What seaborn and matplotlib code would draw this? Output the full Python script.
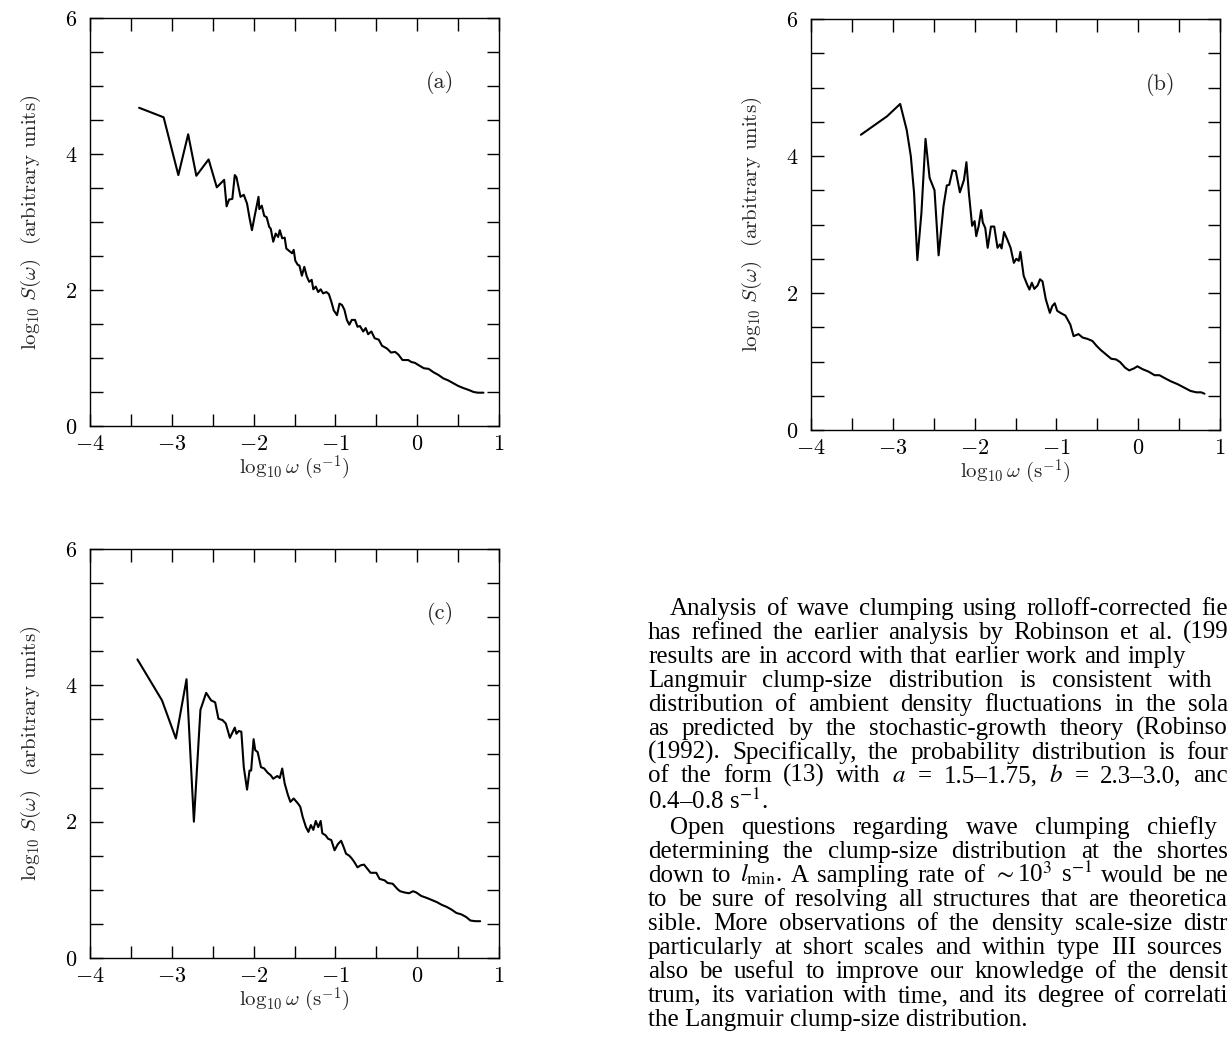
import numpy as np
import pandas as pd
import matplotlib
matplotlib.use("Agg")
import matplotlib.pyplot as plt
import seaborn as sns

# ---------------- data ----------------
a_x = [-3.40, -3.10, -2.92, -2.80, -2.70, -2.55, -2.45, -2.36, -2.33, -2.30, -2.26, -2.23, -2.21, -2.16,
       -2.12, -2.08, -2.05, -2.02, -1.99, -1.97, -1.94, -1.93, -1.90, -1.87, -1.84, -1.81, -1.79, -1.76,
       -1.73, -1.70, -1.68, -1.65, -1.62, -1.60, -1.56, -1.53, -1.51, -1.49, -1.46, -1.44, -1.41, -1.38,
       -1.35, -1.32, -1.29, -1.27, -1.24, -1.21, -1.18, -1.15, -1.11, -1.08, -1.05, -1.02, -0.98, -0.95,
       -0.92, -0.89, -0.86, -0.83, -0.80, -0.76, -0.73, -0.70, -0.66, -0.63, -0.60, -0.56, -0.52, -0.47,
       -0.43, -0.37, -0.32, -0.27, -0.23, -0.18, -0.11, -0.07, -0.03, 0.01, 0.08, 0.14, 0.20, 0.26, 0.32,
       0.38, 0.44, 0.50, 0.56, 0.63, 0.69, 0.74, 0.81]
a_y = [4.68, 4.54, 3.69, 4.29, 3.68, 3.92, 3.51, 3.62, 3.23, 3.33, 3.34, 3.69, 3.66, 3.37, 3.40, 3.27,
       3.06, 2.88, 3.07, 3.19, 3.37, 3.19, 3.24, 3.09, 3.07, 2.93, 2.90, 2.71, 2.83, 2.78, 2.88, 2.76,
       2.77, 2.61, 2.57, 2.54, 2.59, 2.43, 2.37, 2.36, 2.21, 2.34, 2.20, 2.12, 2.15, 2.01, 2.05, 1.97,
       2.01, 1.95, 1.97, 1.94, 1.83, 1.70, 1.63, 1.80, 1.78, 1.71, 1.56, 1.49, 1.56, 1.56, 1.46, 1.47,
       1.39, 1.44, 1.35, 1.39, 1.29, 1.27, 1.18, 1.14, 1.08, 1.09, 1.05, 0.97, 0.97, 0.94, 0.93, 0.90,
       0.85, 0.84, 0.79, 0.75, 0.70, 0.67, 0.63, 0.59, 0.56, 0.53, 0.50, 0.49, 0.49]

b_x = [-3.39, -3.07, -2.91, -2.83, -2.78, -2.74, -2.70, -2.65, -2.60, -2.55, -2.49, -2.44, -2.38, -2.34,
       -2.31, -2.27, -2.23, -2.18, -2.13, -2.10, -2.07, -2.03, -2.00, -1.98, -1.95, -1.92, -1.90, -1.87,
       -1.84, -1.80, -1.76, -1.72, -1.69, -1.67, -1.64, -1.60, -1.56, -1.52, -1.49, -1.46, -1.44, -1.40,
       -1.36, -1.33, -1.30, -1.27, -1.23, -1.20, -1.17, -1.13, -1.10, -1.08, -1.05, -1.02, -0.99, -0.95,
       -0.89, -0.83, -0.79, -0.73, -0.68, -0.62, -0.56, -0.51, -0.46, -0.40, -0.33, -0.27, -0.22, -0.16,
       -0.11, -0.05, -0.01, 0.05, 0.13, 0.20, 0.26, 0.32, 0.40, 0.48, 0.56, 0.64, 0.71, 0.77, 0.81]
b_y = [4.31, 4.58, 4.76, 4.38, 4.00, 3.46, 2.48, 3.17, 4.25, 3.68, 3.50, 2.55, 3.27, 3.57, 3.58, 3.79,
       3.78, 3.47, 3.65, 3.91, 3.46, 2.98, 3.05, 2.83, 2.98, 3.21, 3.03, 2.95, 2.66, 2.97, 2.97, 2.66,
       2.71, 2.65, 2.89, 2.78, 2.66, 2.44, 2.50, 2.47, 2.60, 2.25, 2.13, 2.05, 2.15, 2.06, 2.11, 2.20,
       2.17, 1.91, 1.79, 1.71, 1.81, 1.85, 1.74, 1.71, 1.67, 1.54, 1.37, 1.40, 1.35, 1.33, 1.30, 1.23,
       1.17, 1.11, 1.04, 1.03, 0.99, 0.91, 0.87, 0.90, 0.93, 0.89, 0.85, 0.80, 0.80, 0.76, 0.71, 0.67,
       0.62, 0.57, 0.55, 0.55, 0.53]

c_x = [-3.42, -3.12, -2.95, -2.82, -2.73, -2.65, -2.58, -2.52, -2.47, -2.43, -2.38, -2.34, -2.29, -2.23,
       -2.21, -2.18, -2.15, -2.12, -2.08, -2.05, -2.03, -2.00, -1.98, -1.95, -1.91, -1.87, -1.83, -1.79,
       -1.76, -1.71, -1.68, -1.65, -1.62, -1.58, -1.55, -1.51, -1.46, -1.43, -1.40, -1.36, -1.33, -1.30,
       -1.27, -1.24, -1.21, -1.18, -1.16, -1.12, -1.09, -1.05, -1.01, -0.97, -0.93, -0.90, -0.87, -0.83,
       -0.80, -0.77, -0.73, -0.69, -0.65, -0.61, -0.57, -0.50, -0.46, -0.40, -0.36, -0.30, -0.24, -0.21,
       -0.15, -0.10, -0.05, -0.01, 0.05, 0.12, 0.18, 0.24, 0.30, 0.36, 0.42, 0.48, 0.54, 0.60, 0.65,
       0.71, 0.77]
c_y = [4.38, 3.78, 3.22, 4.09, 2.00, 3.64, 3.89, 3.78, 3.75, 3.51, 3.49, 3.44, 3.23, 3.38, 3.29, 3.33,
       3.32, 2.80, 2.47, 2.75, 2.75, 3.21, 3.05, 3.02, 2.80, 2.78, 2.72, 2.68, 2.63, 2.67, 2.64, 2.78,
       2.56, 2.39, 2.29, 2.34, 2.27, 2.22, 2.07, 1.92, 1.85, 1.95, 1.88, 2.01, 1.92, 2.01, 1.83, 1.80,
       1.75, 1.73, 1.58, 1.67, 1.72, 1.63, 1.53, 1.50, 1.46, 1.41, 1.33, 1.36, 1.37, 1.31, 1.25, 1.25,
       1.16, 1.14, 1.10, 1.09, 1.01, 0.98, 0.96, 0.95, 0.98, 0.96, 0.91, 0.88, 0.85, 0.82, 0.78, 0.75,
       0.71, 0.66, 0.64, 0.60, 0.55, 0.54, 0.54]

x_tick_values = [-4, -3.5, -3, -2.5, -2, -1.5, -1, -0.5, 0, 0.5, 1]
x_tick_labels = ["$-4$", "", "$-3$", "", "$-2$", "", "$-1$", "", "$0$", "", "$1$"]
y_tick_values = [0, 0.5, 1, 1.5, 2, 2.5, 3, 3.5, 4, 4.5, 5, 5.5, 6]
y_tick_labels = ["$0$", "", "", "", "$2$", "", "", "", "$4$", "", "", "", "$6$"]
panel_names = ["(a)", "(b)", "(c)"]
x_label = r"$\log_{10}\omega\ (\mathrm{s}^{-1})$"
y_label = r"$\log_{10}\,S(\omega)$  (arbitrary units)"

body_lines = [
    "Analysis of wave clumping using rolloff-corrected fie",
    "has refined the earlier analysis by Robinson et al. (199",
    "results are in accord with that earlier work and imply",
    "Langmuir clump-size distribution is consistent with",
    "distribution of ambient density fluctuations in the sola",
    "as predicted by the stochastic-growth theory (Robinso",
    "(1992). Specifically, the probability distribution is four",
    "of the form (13) with $a$ = 1.5–1.75, $b$ = 2.3–3.0, anc",
    "0.4–0.8 s$^{-1}$.",
    "Open questions regarding wave clumping chiefly",
    "determining the clump-size distribution at the shortes",
    r"down to $l_{\mathrm{min}}$. A sampling rate of $\sim$10$^{3}$ s$^{-1}$ would be ne",
    "to be sure of resolving all structures that are theoretica",
    "sible. More observations of the density scale-size distr",
    "particularly at short scales and within type III sources",
    "also be useful to improve our knowledge of the densit",
    "trum, its variation with time, and its degree of correlati",
    "the Langmuir clump-size distribution.",
]

# ---------------- style ----------------
sns.set_style("ticks")
plt.rcParams["font.family"] = ["cmr10", "DejaVu Serif"]
plt.rcParams["mathtext.fontset"] = "cm"
plt.rcParams["axes.unicode_minus"] = False
plt.rcParams["axes.formatter.use_mathtext"] = True
plt.rcParams["axes.edgecolor"] = "black"
plt.rcParams["axes.linewidth"] = 1.0

W, H = 1229, 1039
fig = plt.figure(figsize=(W / 100, H / 100), dpi=100)
fig.patch.set_facecolor("white")


def px_axes(left, top, right, bottom):
    return fig.add_axes([left / W, 1 - bottom / H, (right - left) / W, (bottom - top) / H])


boxes = [(90, 18, 499, 426), (811, 19, 1220, 430), (90, 549, 499, 958)]
series = [(a_x, a_y), (b_x, b_y), (c_x, c_y)]

for box, (xs, ys), name in zip(boxes, series, panel_names):
    ax = px_axes(*box)
    df = pd.DataFrame({"x": xs, "y": ys})
    sns.lineplot(data=df, x="x", y="y", ax=ax, color="black", linewidth=1.5,
                 estimator=None, sort=False)
    ax.set_xlim(-4, 1)
    ax.set_ylim(0, 6)
    ax.set_xticks(x_tick_values)
    ax.set_xticklabels(x_tick_labels)
    ax.set_yticks(y_tick_values)
    ax.set_yticklabels(y_tick_labels)
    ax.tick_params(axis="both", direction="in", length=9, width=1.0, top=True, right=True,
                   labelsize=16, color="black", labelcolor="black")
    ax.tick_params(axis="x", pad=6)
    ax.tick_params(axis="y", pad=9)
    for s in ax.spines.values():
        s.set_visible(True)
        s.set_color("black")
        s.set_linewidth(1.0)
    ax.set_xlabel(x_label, fontsize=15)
    ax.set_ylabel(y_label, fontsize=15)
    ax.xaxis.set_label_coords(0.5, -0.068)
    ax.yaxis.set_label_coords(-0.115, 0.5)
    ax.text(0.28, 5.05, name, fontsize=16, ha="center", va="center")
    ax.set_facecolor("white")

# ---------------- body text (justified word placement) ----------------
FS = 18
renderer = fig.canvas.get_renderer()
baselines = [615, 639, 663, 687, 711, 735, 759, 782, 809, 834, 858, 882, 906, 930, 954, 978, 1002,
             1026, 1050]
indent_lines = {0, 9}
short_lines = {8, 17}
right_targets = {2: 1186, 3: 1212, 9: 1217, 14: 1222}
default_right = 1228


def ftext(xp, yp, s):
    return fig.text(xp / W, 1 - yp / H, s, fontsize=FS, family=["Liberation Serif", "DejaVu Serif"],
                    math_fontfamily="stix", ha="left", va="baseline", color="black")


probe1 = ftext(0, -200, "a b")
probe2 = ftext(0, -200, "ab")
space_w = probe1.get_window_extent(renderer).width - probe2.get_window_extent(renderer).width
probe1.remove()
probe2.remove()

for i, line in enumerate(body_lines):
    x0 = 670 if i in indent_lines else 648
    yb = baselines[i]
    if i in short_lines:
        ftext(x0, yb, line)
        continue
    words = line.split(" ")
    objs = [ftext(0, yb, w) for w in words]
    widths = [o.get_window_extent(renderer).width for o in objs]
    right = right_targets.get(i, default_right)
    gap = (right - x0 - sum(widths)) / max(len(words) - 1, 1)
    gap = max(gap, 0.55 * space_w)
    xc = x0
    for o, w in zip(objs, widths):
        o.set_x(xc / W)
        xc += w + gap

fig.savefig("out.png", dpi=100, facecolor="white")
